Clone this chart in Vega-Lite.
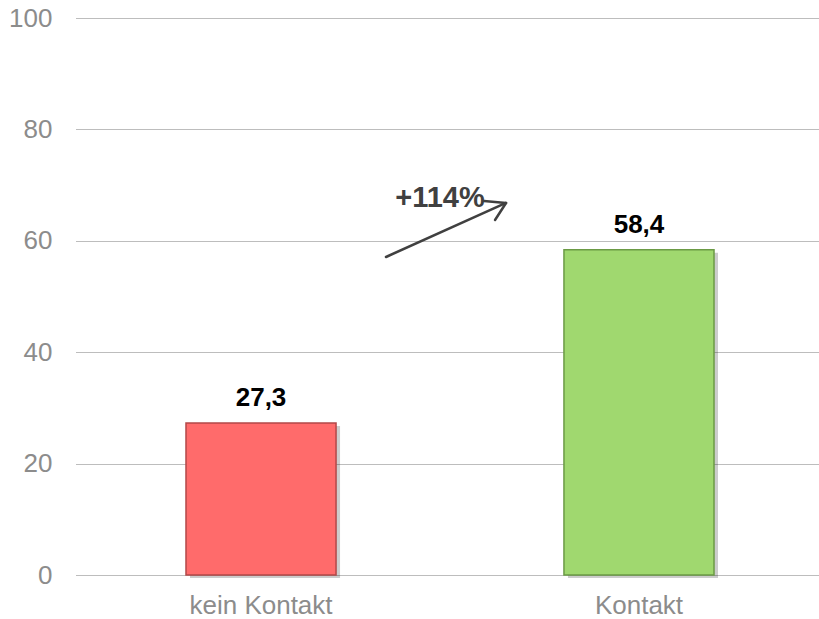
{
  "$schema": "https://vega.github.io/schema/vega-lite/v6.json",
  "width": 748,
  "height": 557,
  "autosize": {"type": "none"},
  "padding": {"left": 76, "top": 18, "right": -5, "bottom": 44},
  "background": "white",
  "config": {
    "view": {"stroke": null},
    "font": "Liberation Sans",
    "locale": {"number": {"decimal": ",", "thousands": ".", "grouping": [3], "currency": ["", " €"]}}
  },
  "datasets": {
    "bars": [
      {"cat": "kein Kontakt", "value": 27.3},
      {"cat": "Kontakt", "value": 58.4}
    ],
    "arrow": [
      {"seg": "shaft", "i": 0, "x": 0.4144, "v": 57.09},
      {"seg": "shaft", "i": 1, "x": 0.5749, "v": 66.79},
      {"seg": "head1", "i": 0, "x": 0.5455, "v": 67.15},
      {"seg": "head1", "i": 1, "x": 0.5749, "v": 66.79},
      {"seg": "head2", "i": 0, "x": 0.5602, "v": 63.73},
      {"seg": "head2", "i": 1, "x": 0.5749, "v": 66.79}
    ],
    "note": [
      {"x": 0.4866, "v": 66.07, "t": "+114%"}
    ]
  },
  "layer": [
    {
      "data": {"name": "bars"},
      "encoding": {
        "x": {
          "field": "cat", "type": "nominal", "sort": null,
          "scale": {"paddingInner": 0.603, "paddingOuter": 0.291},
          "axis": {"title": null, "domain": false, "ticks": false, "labelAngle": 0, "labelPadding": 17,
                   "labelFontSize": 26, "labelColor": "#8c8c8c", "labelFont": "Liberation Sans"}
        },
        "y": {
          "field": "value", "type": "quantitative",
          "scale": {"domain": [0, 100], "nice": false},
          "axis": {"title": null, "values": [0, 20, 40, 60, 80, 100], "domain": false, "ticks": false, "tickSize": 0,
                   "labelPadding": 24, "labelFontSize": 26, "labelColor": "#8c8c8c", "labelFont": "Liberation Sans",
                   "grid": true, "gridColor": "#7a7a7a", "gridDash": [1, 1], "gridWidth": 1}
        }
      },
      "layer": [
        {"mark": {"type": "bar", "color": "#000000", "opacity": 0.2, "xOffset": 4, "yOffset": 3}},
        {
          "mark": {"type": "bar", "strokeWidth": 1.5},
          "encoding": {
            "color": {"field": "cat", "type": "nominal", "legend": null,
                      "scale": {"domain": ["kein Kontakt", "Kontakt"], "range": ["#ff6b6b", "#a0d86f"]}},
            "stroke": {"field": "cat", "type": "nominal", "legend": null,
                       "scale": {"domain": ["kein Kontakt", "Kontakt"], "range": ["#b34848", "#6b9a45"]}}
          }
        },
        {
          "mark": {"type": "text", "baseline": "alphabetic", "dy": -17, "fontSize": 26, "fontWeight": "bold", "color": "#000000", "font": "Liberation Sans"},
          "encoding": {"text": {"field": "value", "type": "quantitative", "format": ".1f"}}
        }
      ]
    },
    {
      "data": {"name": "arrow"},
      "mark": {"type": "line", "color": "#404040", "strokeWidth": 2.5, "strokeCap": "round"},
      "encoding": {
        "x": {"field": "x", "type": "quantitative", "scale": {"domain": [0, 1], "nice": false, "zero": false}, "axis": null},
        "y": {"field": "v", "type": "quantitative", "scale": {"domain": [0, 100], "nice": false}, "axis": null},
        "detail": {"field": "seg"},
        "order": {"field": "i"}
      }
    },
    {
      "data": {"name": "note"},
      "mark": {"type": "text", "baseline": "alphabetic", "align": "center", "fontSize": 29, "fontWeight": "bold", "color": "#404040", "font": "Liberation Sans"},
      "encoding": {
        "x": {"field": "x", "type": "quantitative", "scale": {"domain": [0, 1], "nice": false, "zero": false}, "axis": null},
        "y": {"field": "v", "type": "quantitative", "scale": {"domain": [0, 100], "nice": false}, "axis": null},
        "text": {"field": "t"}
      }
    }
  ],
  "resolve": {"scale": {"x": "independent"}, "axis": {"x": "independent", "y": "independent"}}
}
